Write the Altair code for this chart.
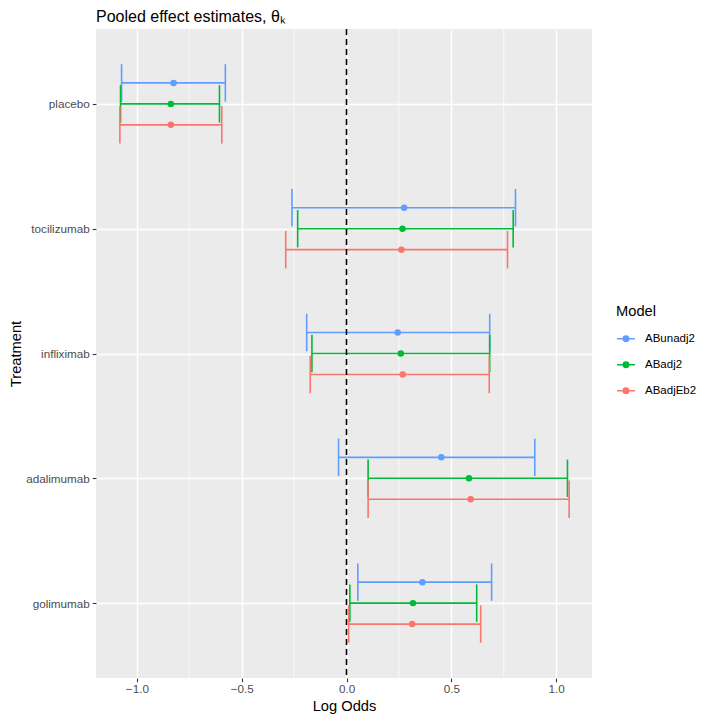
import altair as alt
import pandas as pd

treatments = ["placebo", "tocilizumab", "infliximab", "adalimumab", "golimumab"]
models = ["ABunadj2", "ABadj2", "ABadjEb2"]
colors = ["#619CFF", "#00BA38", "#F8766D"]

# estimates per model, in treatment order
est = {
    "ABunadj2": [-0.825, 0.275, 0.244, 0.452, 0.362],
    "ABadj2":   [-0.838, 0.267, 0.259, 0.584, 0.317],
    "ABadjEb2": [-0.838, 0.262, 0.268, 0.592, 0.313],
}
lower = {
    "ABunadj2": [-1.073, -0.260, -0.190, -0.038, 0.054],
    "ABadj2":   [-1.078, -0.233, -0.165, 0.103, 0.016],
    "ABadjEb2": [-1.081, -0.290, -0.173, 0.103, 0.010],
}
upper = {
    "ABunadj2": [-0.578, 0.806, 0.683, 0.898, 0.692],
    "ABadj2":   [-0.606, 0.795, 0.683, 1.054, 0.621],
    "ABadjEb2": [-0.595, 0.768, 0.681, 1.062, 0.640],
}
dodge = {"ABunadj2": -0.168, "ABadj2": 0.0, "ABadjEb2": 0.168}
x_breaks = [-1.0, -0.5, 0.0, 0.5, 1.0]
x_minor = [-0.75, -0.25, 0.25, 0.75]

rows = []
for m in models:
    for i, t in enumerate(treatments):
        rows.append({"Treatment": t, "idx": i, "Model": m,
                     "est": est[m][i], "lo": lower[m][i], "hi": upper[m][i],
                     "pos": i + dodge[m]})
df = pd.DataFrame(rows)

FONT = "Liberation Sans"
label_expr = "[" + ",".join("'%s'" % t for t in treatments) + "][datum.value]"

xscale = alt.Scale(domain=[-1.195, 1.171], nice=False, zero=False)
yscale = alt.Scale(domain=[-0.6, 4.6], reverse=True, nice=False, zero=False)

x_axis = alt.Axis(values=x_breaks, format=".1f", grid=True,
                  gridColor="white", gridWidth=1.4,
                  labelFont=FONT, labelFontSize=11.7, labelColor="#4D4D4D",
                  titleFont=FONT, titleFontSize=14.7, titleFontWeight="normal",
                  titleColor="black", tickColor="#333333", tickSize=3.7,
                  tickWidth=1.1, domain=False, labelPadding=2, titlePadding=3)
y_axis = alt.Axis(values=list(range(len(treatments))), labelExpr=label_expr,
                  grid=True, gridColor="white", gridWidth=1.4,
                  labelFont=FONT, labelFontSize=11.7, labelColor="#4D4D4D",
                  titleFont=FONT, titleFontSize=14.7, titleFontWeight="normal",
                  titleColor="black", tickColor="#333333", tickSize=3.7,
                  tickWidth=1.1, domain=False, labelPadding=3, titlePadding=2)


def X(field):
    return alt.X(field, scale=xscale, title="Log Odds", axis=x_axis)


def Y(field):
    return alt.Y(field, scale=yscale, title="Treatment", axis=y_axis)


color = alt.Color("Model:N", scale=alt.Scale(domain=models, range=colors),
                  legend=alt.Legend(
                      title="Model", orient="none", legendX=520, legendY=275,
                      titleFont=FONT, titleFontSize=14.7, titleFontWeight="normal",
                      titleColor="black", labelFont=FONT, labelFontSize=11.5,
                      labelColor="black", labelOffset=9,
                      symbolType="M-1,0L1,0M-0.3,0A0.3,0.3 0 1,0 0.3,0A0.3,0.3 0 1,0 -0.3,0",
                      symbolSize=320, symbolStrokeWidth=1.6, rowPadding=10,
                      titlePadding=10))

base = alt.Chart(df)

axes_layer = base.mark_point(opacity=0).encode(x=X("est:Q"), y=Y("pos:Q"))

minor = alt.Chart(pd.DataFrame({"v": x_minor})).mark_rule(
    color="white", strokeWidth=0.7).encode(x=X("v:Q"))

hline = base.mark_rule(strokeWidth=1.6).encode(
    x=X("lo:Q"), x2="hi:Q", y=Y("pos:Q"), color=color)

caps = base.transform_calculate(a="datum.pos - 0.15", b="datum.pos + 0.15")

cap_lo = caps.mark_rule(strokeWidth=1.6).encode(
    x=X("lo:Q"), y=Y("a:Q"), y2="b:Q", color=color)

cap_hi = caps.mark_rule(strokeWidth=1.6).encode(
    x=X("hi:Q"), y=Y("a:Q"), y2="b:Q", color=color)

pts = base.mark_circle(size=42, opacity=1).encode(
    x=X("est:Q"), y=Y("pos:Q"), color=color)

zero = alt.Chart(pd.DataFrame({"z": [0.0]})).mark_rule(
    color="black", strokeWidth=1.6, strokeDash=[6, 4]).encode(x=X("z:Q"))

chart = alt.layer(axes_layer, minor, hline, cap_lo, cap_hi, pts, zero).properties(
    width=496, height=649,
    title=alt.TitleParams("Pooled effect estimates, θₖ", anchor="start", frame="group",
                          font=FONT, fontSize=16, fontWeight="normal",
                          color="black", offset=3),
    autosize=alt.AutoSizeParams(type="none"),
    padding={"left": 88, "top": 21, "right": 106, "bottom": 38},
    background="white",
).configure_view(fill="#EBEBEB", strokeWidth=0)

chart.save("out.html", embed_options={"renderer": "svg", "actions": False})
